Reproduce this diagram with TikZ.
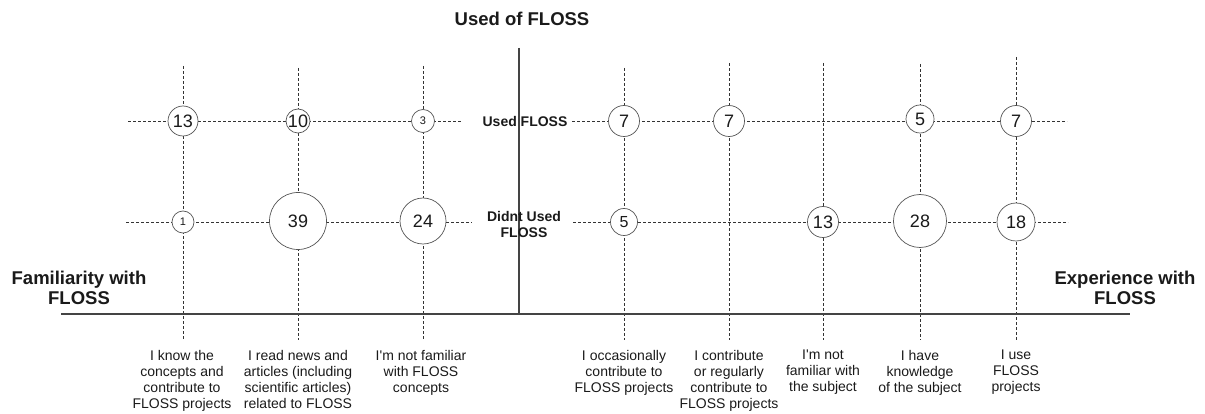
\documentclass[tikz,border=0pt]{standalone}
\usepackage{fontspec}
\setmainfont{Liberation Sans}
\definecolor{textc}{HTML}{1A1A1A}
\definecolor{linec}{HTML}{333333}
\definecolor{circc}{HTML}{555555}
\definecolor{axisc}{HTML}{444444}
\begin{document}
\begin{tikzpicture}[x=1pt,y=-1pt,
  grid/.style={draw=linec, line width=0.8pt, dash pattern=on 3pt off 2pt},
  axisline/.style={draw=axisc, line width=1.3pt},
  bub/.style={circle, draw=circc, line width=0.7pt, fill=white, inner sep=0pt, minimum size=#1, font=\fontsize{18}{18}\selectfont, text=textc},
  smallnum/.style={font=\fontsize{11}{11}\selectfont},
  midnum/.style={font=\fontsize{16}{16}\selectfont},
  lab/.style={align=center, anchor=north, inner sep=0pt, font=\fontsize{14}{16}\selectfont, text=textc},
  head/.style={align=center, inner sep=0pt, font=\bfseries\fontsize{18.5}{20}\selectfont, text=textc},
  rowlab/.style={align=center, inner sep=0pt, font=\bfseries\fontsize{14}{16}\selectfont, text=textc}]
\useasboundingbox (0,0) rectangle (1205,414);

% axes
\coordinate (vt) at (519,48);
\coordinate (vb) at (519,314);
\coordinate (ha) at (61,314);
\coordinate (hb) at (1130,314);

% column ends
\coordinate (t1) at (183,66);  \coordinate (b1) at (183,340);
\coordinate (t2) at (298,68);  \coordinate (b2) at (298,340);
\coordinate (t3) at (423,66);  \coordinate (b3) at (423,340);
\coordinate (t4) at (624,68);  \coordinate (b4) at (624,340);
\coordinate (t5) at (729,63);  \coordinate (b5) at (729,340);
\coordinate (t6) at (823,63);  \coordinate (b6) at (823,340);
\coordinate (t7) at (920,64);  \coordinate (b7) at (920,340);
\coordinate (t8) at (1016,57); \coordinate (b8) at (1016,340);

% row ends
\coordinate (r1a) at (128,121); \coordinate (r1b) at (462,121);
\coordinate (r1c) at (572,121); \coordinate (r1d) at (1067,121);
\coordinate (r2a) at (126,222); \coordinate (r2b) at (472,222);
\coordinate (r2c) at (573,222); \coordinate (r2d) at (1068,222);

% grid lines
\foreach \i in {1,...,8} {\draw[grid] (t\i) -- (b\i);}
\draw[grid] (r1a) -- (r1b);
\draw[grid] (r1c) -- (r1d);
\draw[grid] (r2a) -- (r2b);
\draw[grid] (r2c) -- (r2d);

% axes
\draw[axisline] (vt) -- (vb);
\draw[axisline] (ha) -- (hb);

% bubbles row 1
\node[bub=30pt] (c13) at (183,121) {13};
\node[bub=24pt] (c10) at (298,121) {10};
\node[bub=23pt, smallnum] (c3) at (423,121) {3};
\node[bub=31pt] (e7a) at (624,121) {7};
\node[bub=31pt] (e7b) at (729,121) {7};
\node[bub=28pt] (e5a) at (920,119) {5};
\node[bub=31pt] (e7c) at (1016,121) {7};

% bubbles row 2
\node[bub=22pt, smallnum] (c1) at (183,222) {1};
\node[bub=57pt] (c39) at (298,221) {39};
\node[bub=46pt] (c24) at (423,221) {24};
\node[bub=27pt, midnum] (e5b) at (624,222) {5};
\node[bub=31pt] (e13) at (823,222) {13};
\node[bub=53pt] (e28) at (920,221) {28};
\node[bub=38pt] (e18) at (1016,222) {18};

% row labels
\node[rowlab] (used) at (525,121) {Used FLOSS};
\node[rowlab] (notused) at (524,224.5) {Didnt Used\\FLOSS};

% headings
\node[head] (title) at (522,19) {Used of FLOSS};
\node[head] (fam) at (79,288) {Familiarity with\\FLOSS};
\node[head] (exp) at (1125,288) {Experience with\\FLOSS};

% column labels
\node[lab] (l1) at (182,350) {I know the\\concepts and\\contribute to\\FLOSS projects};
\node[lab] (l2) at (298,350) {I read news and\\articles (including\\scientific articles)\\related to FLOSS};
\node[lab] (l3) at (421,350) {I\textquotesingle m not familiar\\with FLOSS\\concepts};
\node[lab] (l4) at (624,350) {I occasionally\\contribute to\\FLOSS projects};
\node[lab] (l5) at (729,350) {I contribute\\or regularly\\contribute to\\FLOSS projects};
\node[lab] (l6) at (823,350) {I\textquotesingle m not\\familiar with\\the subject};
\node[lab] (l7) at (920,350) {I have\\knowledge\\of the subject};
\node[lab] (l8) at (1016,350) {I use\\FLOSS\\projects};
\end{tikzpicture}
\end{document}
